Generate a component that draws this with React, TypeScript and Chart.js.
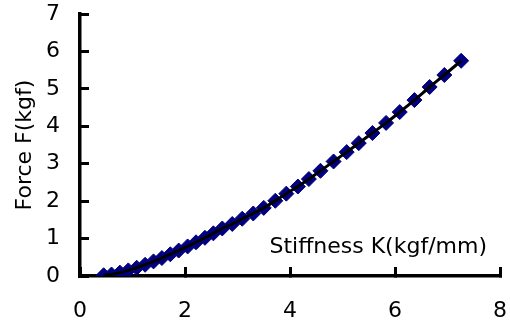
import React, { useEffect, useRef } from 'react';
import { Chart, registerables } from 'chart.js';

Chart.register(...registerables);

// Stiffness K (kgf/mm)
const stiffness = [0.45, 0.60, 0.76, 0.92, 1.08, 1.24, 1.40, 1.56, 1.72, 1.88, 2.05, 2.21, 2.38, 2.54, 2.71, 2.90, 3.09, 3.30, 3.50, 3.72, 3.93, 4.15, 4.36, 4.58, 4.83, 5.08, 5.31, 5.57, 5.83, 6.09, 6.37, 6.66, 6.94, 7.26];
// Force F (kgf)
const force = [0.02, 0.04, 0.09, 0.15, 0.22, 0.30, 0.39, 0.48, 0.58, 0.68, 0.79, 0.90, 1.02, 1.14, 1.27, 1.39, 1.53, 1.67, 1.82, 2.01, 2.20, 2.39, 2.59, 2.81, 3.06, 3.31, 3.55, 3.82, 4.09, 4.38, 4.70, 5.05, 5.37, 5.75];

const xRange = [0, 8];
const xStep = 2;
const yRange = [0, 7];
const yStep = 1;

const X_TITLE = 'Stiffness K(kgf/mm)';
const Y_TITLE = 'Force F(kgf)';
const FONT_FAMILY = '"DejaVu Sans", sans-serif';
const FONT_SIZE = 22;

export default function App() {
  const ref = useRef<HTMLCanvasElement>(null);

  useEffect(() => {
    document.body.style.margin = '0';
    const canvas = ref.current;
    if (!canvas) return;
    const pts = stiffness.map((x, i) => ({ x, y: force[i] }));

    const xTitleInside = {
      id: 'xTitleInside',
      afterDraw(chart: any) {
        const { ctx, chartArea } = chart;
        ctx.save();
        ctx.font = `${FONT_SIZE}px ${FONT_FAMILY}`;
        ctx.fillStyle = '#000';
        ctx.textAlign = 'right';
        ctx.textBaseline = 'alphabetic';
        ctx.fillText(X_TITLE, chartArea.right - 13, chartArea.bottom - 23);
        ctx.restore();
      },
    };

    const axisGrid = {
      display: true,
      drawOnChartArea: false,
      drawTicks: true,
      tickLength: -9,
      color: '#000',
      lineWidth: 3,
    };

    const chart = new Chart(canvas, {
      type: 'scatter',
      data: {
        datasets: [
          {
            label: 'fit',
            data: pts,
            showLine: true,
            borderColor: '#000',
            borderWidth: 3,
            pointRadius: 0,
            tension: 0.3,
            fill: false,
          },
          {
            label: 'F',
            data: pts,
            showLine: false,
            pointStyle: 'rectRot',
            pointRadius: 7.5,
            backgroundColor: '#000080',
            borderColor: '#000080',
            borderWidth: 1,
          },
        ],
      },
      options: {
        responsive: false,
        animation: false,
        layout: { padding: { top: 14, right: 10, left: 0, bottom: 0 } },
        plugins: {
          legend: { display: false },
          tooltip: { enabled: false },
        },
        scales: {
          x: {
            type: 'linear',
            min: xRange[0],
            max: xRange[1],
            ticks: {
              stepSize: xStep,
              color: '#000',
              padding: 31,
              font: { family: FONT_FAMILY, size: FONT_SIZE },
            },
            grid: axisGrid,
            border: { display: true, color: '#000', width: 3.5 },
            afterFit(scale: any) {
              scale.height = 47;
              scale.paddingLeft = 0;
              scale.paddingRight = 0;
            },
          },
          y: {
            type: 'linear',
            min: yRange[0],
            max: yRange[1],
            ticks: {
              stepSize: yStep,
              color: '#000',
              padding: 29,
              font: { family: FONT_FAMILY, size: FONT_SIZE },
            },
            grid: axisGrid,
            border: { display: true, color: '#000', width: 3.5 },
            title: {
              display: true,
              text: Y_TITLE,
              color: '#000',
              padding: { top: 12, bottom: 0 },
              font: { family: FONT_FAMILY, size: FONT_SIZE },
            },
            afterFit(scale: any) {
              scale.width = 80;
              scale.paddingTop = 0;
              scale.paddingBottom = 0;
            },
          },
        },
      },
      plugins: [xTitleInside],
    });

    return () => chart.destroy();
  }, []);

  return (
    <div style={{ position: 'relative', width: 510, height: 323 }}>
      <canvas ref={ref} width={510} height={323} />
    </div>
  );
}
